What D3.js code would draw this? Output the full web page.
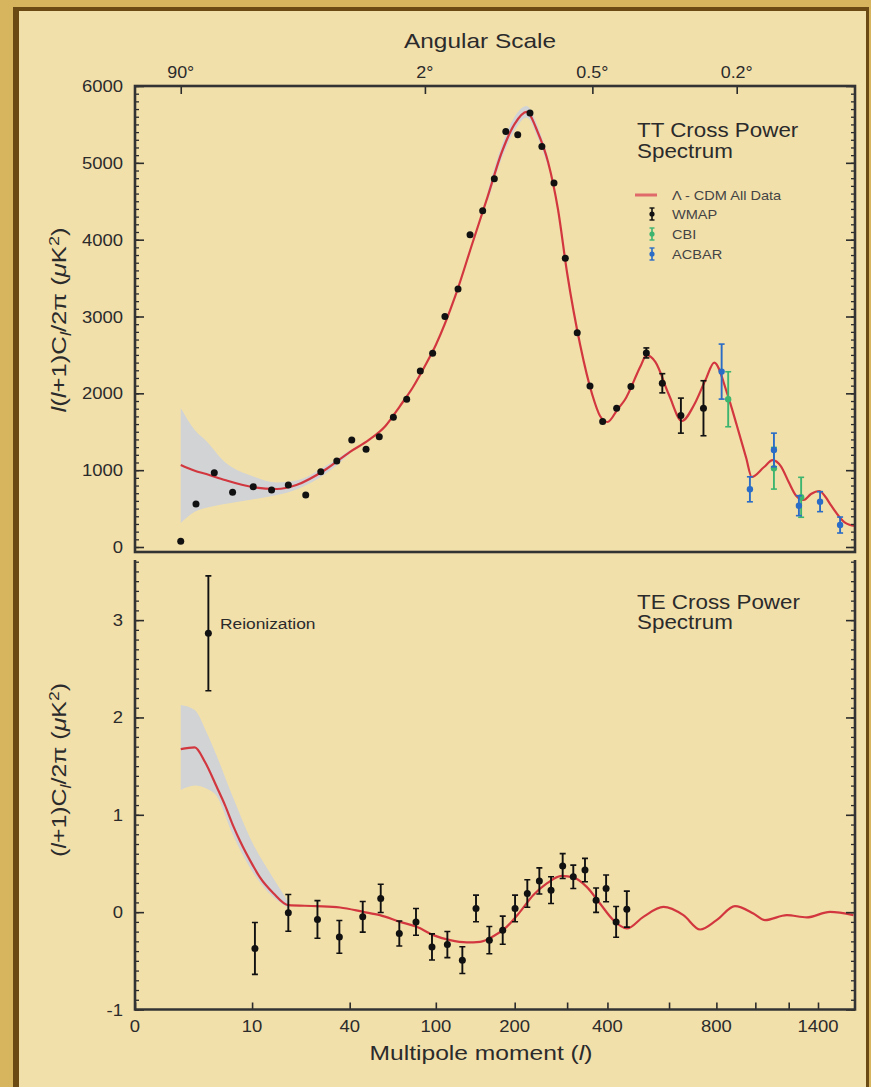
<!DOCTYPE html>
<html><head><meta charset="utf-8">
<script src="https://cdn.jsdelivr.net/npm/d3@7"></script>
<style>
html,body{margin:0;padding:0;background:#d7b55e;}
svg{display:block;}
text{font-family:"Liberation Sans",Arial,Helvetica,sans-serif;}
</style></head><body>
<svg id="chart" width="871" height="1087"></svg>
<script>
// ---------------- DATA ----------------
// TT panel: WMAP binned points (multipole l, l(l+1)Cl/2pi in uK^2, error)
const ttWmapL=[2,3.1,4.8,7,10.2,13.8,17.8,22.8,27.9,34.2,41,48.4,56.1,65.3,75,86,97,109,123,137,153,169,186,205,226,248,272,296,323,354,387,426,469,519,575,646,741];
const ttWmapV=[75,560,967,712,785,742,807,677,980,1120,1393,1272,1436,1688,1923,2292,2522,2999,3359,4063,4375,4792,5407,5365,5647,5212,4736,3759,2790,2096,1632,1806,2090,2526,2131,1710,1806];
const ttWmapErr=[0,0,0,0,0,0,0,0,0,0,0,0,0,0,0,0,0,0,0,0,0,0,0,0,0,0,0,0,0,0,0,0,0,65,125,228,358];
// CBI
const cbiL=[857,1108,1282];
const cbiV=[1923,1025,647];
const cbiErr=[358,271,260];
// ACBAR
const acbarL=[825,970,1108,1267,1415,1567];
const acbarV=[2283,751,1263,538,590,286];
const acbarErr=[358,163,219,130,130,104];
// Lambda-CDM model (TT)
const ttModelL=[2,3,4,6,10,15,20,30,40,50,60,70,80,90,100,120,140,160,180,200,220,240,260,280,300,330,360,380,400,430,450,500,520,550,600,650,700,750,790,850,900,950,980,1050,1100,1150,1200,1250,1300,1350,1410,1450,1500,1600,1690];
const ttModelV=[1067,993,950,872,781,755,807,1015,1236,1393,1575,1835,2083,2356,2629,3267,3957,4569,5141,5506,5662,5402,5011,4405,3566,2629,1978,1705,1627,1800,1913,2356,2500,2408,1978,1640,1848,2174,2400,2017,1588,1158,911,1041,1132,1054,846,664,612,690,729,664,534,325,273];
// cosmic variance band (TT)
const ttBandL=[2,3,4,6,10,15,20,30,40];
const ttBandLo=[312,460,510,560,618,677,750,960,1215];
const ttBandHi=[1810,1523,1380,1106,924,840,865,1060,1260];
const ttBand2L=[160,180,200,220,240,260];
const ttBand2Lo=[4500,5060,5420,5590,5330,4950];
const ttBand2Hi=[4640,5230,5600,5740,5480,5070];

// TE panel: WMAP points
const teL=[10.5,17.8,26.7,35.3,46.6,57,69.5,82.4,96.4,111.5,127.9,144.4,162,181.3,200.6,221.3,243.2,266,290.3,313.9,341.6,369.6,396.3,424.5,456.3];
const teV=[-0.373,-0.007,-0.075,-0.254,-0.048,0.141,-0.219,-0.100,-0.357,-0.333,-0.493,0.038,-0.288,-0.185,0.038,0.192,0.321,0.226,0.473,0.363,0.432,0.123,0.244,-0.100,0.031];
const teErr=[0.266,0.189,0.193,0.168,0.157,0.145,0.128,0.137,0.134,0.134,0.137,0.137,0.140,0.144,0.137,0.141,0.134,0.137,0.128,0.120,0.120,0.125,0.137,0.158,0.185];
// reionization point
const reionL=[4.2];
const reionV=[2.864];
const reionErr=[0.59];
// TE model
const teModelL=[2,3,3.88,5.06,6.02,7.1,8.06,10.2,11.4,14.2,17.8,26.4,35.6,46.9,56.5,70,83,97.6,114.3,133,149.5,167.6,187.3,208.8,232.1,257.6,288.5,313.9,345.8,379.8,416.7,456.3,509,579,656,726,801,891,989,1055,1188,1320,1489,1675];
const teModelV=[1.675,1.693,1.542,1.288,1.100,0.884,0.730,0.473,0.360,0.195,0.072,0.062,0.048,0.003,-0.031,-0.100,-0.151,-0.236,-0.288,-0.311,-0.305,-0.247,-0.151,0.003,0.175,0.295,0.373,0.357,0.260,0.089,-0.082,-0.168,-0.048,0.054,-0.031,-0.178,-0.082,0.062,-0.013,-0.082,-0.031,-0.054,0.003,-0.031];
const teBandL=[2,3,4,5,7,10,14,18];
const teBandLo=[1.254,1.30,1.27,1.20,0.80,0.42,0.16,0.04];
const teBandHi=[2.127,2.076,1.853,1.62,1.19,0.72,0.36,0.09];

// ticks
const ttYTicks=[0,1000,2000,3000,4000,5000,6000];
const teYTicks=[-1,0,1,2,3];
const xTickVals=[0,10,40,100,200,400,800,1400];
const xMinorVals=[300,600,1000,1200];
const angTickL=[2,90,360,900];
const angTickLabels=["90°","2°","0.5°","0.2°"];
const legendLabels=["Λ - CDM All Data","WMAP","CBI","ACBAR"];

// ---------------- LAYOUT ----------------
const W=871,H=1087;
const L=135,R=855;
const TT_TOP=86,TT_BOT=552,TE_TOP=560,TE_BOT=1009.5;
const ink="#2b2b2b", red="#d2373f", band="#d1d3d5";
const cWMAP="#111111", cCBI="#3db56f", cACBAR="#2a6cc6";

const svg=d3.select("#chart");
svg.append("rect").attr("width",W).attr("height",H).attr("fill","#d7b55e");
svg.append("rect").attr("x",13).attr("y",7).attr("width",856).attr("height",H).attr("fill","#6b4a13");
svg.append("rect").attr("x",19).attr("y",11).attr("width",847).attr("height",H).attr("fill","#f2e0ab");

// scales
const x=d3.scalePow().exponent(0.23).domain([1,1401]).range([135,818]);
const xl=l=>x(l+1);
const yTT=d3.scaleLinear().domain([-65,6000]).range([TT_BOT,TT_TOP]);
const yTE=d3.scaleLinear().domain([-1,3.6]).range([TE_BOT,561.7]);

const defs=svg.append("defs");
defs.append("clipPath").attr("id","clipTT").append("rect").attr("x",L).attr("y",TT_TOP).attr("width",R-L).attr("height",TT_BOT-TT_TOP);
defs.append("clipPath").attr("id","clipTE").append("rect").attr("x",L).attr("y",TE_TOP).attr("width",R-L).attr("height",TE_BOT-TE_TOP);

function label(g,px,py,str,o={}){
  const sx=o.sx||1.12;
  return g.append("text").attr("transform",`translate(${px},${py}) scale(${sx},1)`)
    .attr("text-anchor",o.anchor||"middle").attr("font-size",o.size||16)
    .attr("fill",o.fill||ink).text(str);
}

function drawPanel(clipId,yS,bandSets,modelL,modelV){
  const g=svg.append("g").attr("clip-path",`url(#${clipId})`);
  bandSets.forEach(([bl,lo,hi])=>{
    const d=bl.map((l,i)=>[l,lo[i],hi[i]]);
    g.append("path").attr("d",d3.area().x(p=>xl(p[0])).y0(p=>yS(p[1])).y1(p=>yS(p[2])).curve(d3.curveMonotoneX)(d))
      .attr("fill",band).attr("stroke","none");
  });
  const md=modelL.map((l,i)=>[l,modelV[i]]);
  g.append("path").attr("d",d3.line().x(p=>xl(p[0])).y(p=>yS(p[1])).curve(d3.curveMonotoneX)(md))
    .attr("fill","none").attr("stroke",red).attr("stroke-width",2.2);
  return g;
}
function drawPoints(g,yS,ls,vs,es,color,r){
  ls.forEach((l,i)=>{
    const px=xl(l),py=yS(vs[i]);
    if(es[i]>0){
      const y1=yS(vs[i]+es[i]),y2=yS(vs[i]-es[i]);
      g.append("line").attr("x1",px).attr("x2",px).attr("y1",y1).attr("y2",y2).attr("stroke",color).attr("stroke-width",1.9);
      [y1,y2].forEach(yy=>g.append("line").attr("x1",px-3).attr("x2",px+3).attr("y1",yy).attr("y2",yy).attr("stroke",color).attr("stroke-width",1.6));
    }
    g.append("circle").attr("cx",px).attr("cy",py).attr("r",r).attr("fill",color);
  });
}

// ---- TT panel ----
const gTT=drawPanel("clipTT",yTT,[[ttBandL,ttBandLo,ttBandHi],[ttBand2L,ttBand2Lo,ttBand2Hi]],ttModelL,ttModelV);
drawPoints(gTT,yTT,ttWmapL,ttWmapV,ttWmapErr,cWMAP,3.5);
drawPoints(gTT,yTT,cbiL,cbiV,cbiErr,cCBI,3.2);
drawPoints(gTT,yTT,acbarL,acbarV,acbarErr,cACBAR,3.2);

// ---- TE panel ----
const gTE=drawPanel("clipTE",yTE,[[teBandL,teBandLo,teBandHi]],teModelL,teModelV);
drawPoints(gTE,yTE,teL,teV,teErr,cWMAP,3.5);
drawPoints(gTE,yTE,reionL,reionV,reionErr,cWMAP,3.5);

// ---- axes / frames ----
function yTicks(yS,major,minorDom,minorStep){
  const minor=d3.range(minorDom[0],minorDom[1]+1e-9,minorStep).map(v=>+v.toFixed(4));
  [[L,d3.axisRight],[R,d3.axisLeft]].forEach(([px,ax])=>{
    svg.append("g").attr("transform",`translate(${px},0)`).call(ax(yS).tickValues(minor).tickSize(4).tickFormat(""))
      .call(g=>{g.select(".domain").remove();g.selectAll("line").attr("stroke",ink).attr("stroke-width",1.3);});
    svg.append("g").attr("transform",`translate(${px},0)`).call(ax(yS).tickValues(major).tickSize(9).tickFormat(""))
      .call(g=>{g.select(".domain").remove();g.selectAll("line").attr("stroke",ink).attr("stroke-width",1.6);});
  });
}
yTicks(yTT,ttYTicks,[0,6000],100);
yTicks(yTE,teYTicks,[-1,3.6],0.1);

// top angular ticks
svg.append("g").attr("transform",`translate(0,${TT_TOP})`).call(d3.axisBottom(x).tickValues(angTickL.map(l=>l+1)).tickSize(8).tickFormat(""))
  .call(g=>{g.select(".domain").remove();g.selectAll("line").attr("stroke",ink).attr("stroke-width",1.6);});
// bottom multipole ticks
svg.append("g").attr("transform",`translate(0,${TE_BOT})`).call(d3.axisTop(x).tickValues(xTickVals.concat(xMinorVals).map(l=>l+1)).tickSize(7).tickFormat(""))
  .call(g=>{g.select(".domain").remove();g.selectAll("line").attr("stroke",ink).attr("stroke-width",1.6);});

// frames
svg.append("rect").attr("x",L).attr("y",TT_TOP).attr("width",R-L).attr("height",TT_BOT-TT_TOP)
  .attr("fill","none").attr("stroke","#333").attr("stroke-width",2.6);
svg.append("path").attr("d",`M${L},${TE_TOP}V${TE_BOT}H${R}V${TE_TOP}`)
  .attr("fill","none").attr("stroke","#333").attr("stroke-width",2.6);

// tick labels
ttYTicks.forEach(v=>label(svg,123,yTT(v)+6,String(v),{anchor:"end",size:16.5}));
teYTicks.forEach(v=>label(svg,123,yTE(v)+6,v<0?"-"+Math.abs(v):String(v),{anchor:"end",size:16.5}));
xTickVals.forEach(v=>label(svg,xl(v),1032,String(v),{size:16.5}));
angTickL.forEach((l,i)=>label(svg,xl(l),78,angTickLabels[i],{size:16}));

// titles
svg.append("text").attr("x",480).attr("y",48).attr("text-anchor","middle").attr("font-size",21)
  .attr("fill",ink).attr("textLength",152).attr("lengthAdjust","spacingAndGlyphs").text("Angular Scale");
{
  const t=svg.append("text").attr("x",481).attr("y",1060).attr("text-anchor","middle").attr("font-size",21)
    .attr("fill",ink).attr("textLength",223).attr("lengthAdjust","spacingAndGlyphs");
  t.append("tspan").text("Multipole moment (");
  t.append("tspan").attr("font-style","italic").text("l");
  t.append("tspan").text(")");
}
function yTitle(px,py,len,withL){
  const t=svg.append("text").attr("transform",`translate(${px},${py}) rotate(-90)`).attr("text-anchor","middle")
    .attr("font-size",20).attr("fill",ink).attr("textLength",len).attr("lengthAdjust","spacingAndGlyphs");
  if(withL) t.append("tspan").attr("font-style","italic").text("l");
  t.append("tspan").text("(");
  t.append("tspan").attr("font-style","italic").text("l");
  t.append("tspan").text("+1)C");
  t.append("tspan").attr("font-style","italic").attr("font-size",14).attr("dy",5).text("l");
  t.append("tspan").attr("dy",-5).text("/2π (");
  t.append("tspan").attr("font-style","italic").text("μ");
  t.append("tspan").text("K");
  t.append("tspan").attr("font-size",14).attr("dy",-7).text("2");
  t.append("tspan").attr("dy",7).text(")");
}
yTitle(66,320,185,true);
yTitle(66,770,174,false);

// panel titles
label(svg,637,137,"TT Cross Power",{anchor:"start",size:20});
label(svg,637,158,"Spectrum",{anchor:"start",size:20});
label(svg,637,609,"TE Cross Power",{anchor:"start",size:20});
label(svg,637,629,"Spectrum",{anchor:"start",size:20});
label(svg,220,629,"Reionization",{anchor:"start",size:15.5});

// legend
const lg=svg.append("g");
const rows=[200,219,239,259];
lg.append("line").attr("x1",635).attr("x2",657).attr("y1",195).attr("y2",195).attr("stroke","#e06a6a").attr("stroke-width",3);
[cWMAP,cCBI,cACBAR].forEach((c,i)=>{
  const cy=rows[i+1]-5;
  lg.append("line").attr("x1",652).attr("x2",652).attr("y1",cy-6).attr("y2",cy+6).attr("stroke",c).attr("stroke-width",1.6);
  [cy-6,cy+6].forEach(yy=>lg.append("line").attr("x1",649.5).attr("x2",654.5).attr("y1",yy).attr("y2",yy).attr("stroke",c).attr("stroke-width",1.4));
  lg.append("circle").attr("cx",652).attr("cy",cy).attr("r",2.6).attr("fill",c);
});
legendLabels.forEach((s,i)=>label(lg,672,rows[i],s,{anchor:"start",size:13,fill:"#444"}));
</script>
</body></html>
